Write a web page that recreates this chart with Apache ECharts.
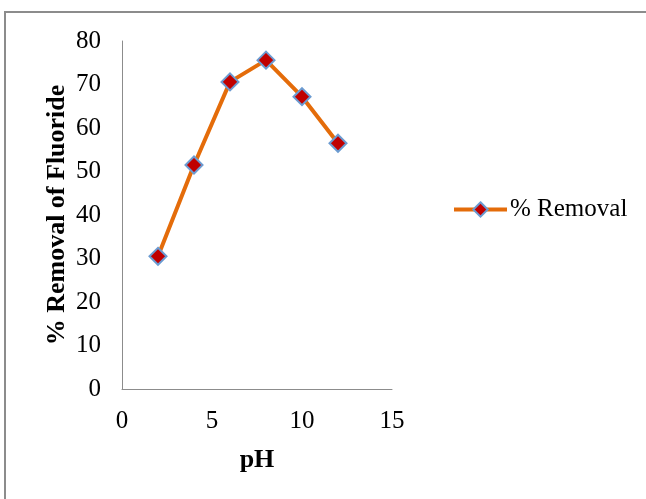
<!DOCTYPE html>
<html><head><meta charset="utf-8">
<script src="https://cdn.jsdelivr.net/npm/echarts@6/dist/echarts.min.js"></script>
<style>html,body{margin:0;padding:0;background:#fff}#c{width:646px;height:499px}</style>
</head><body><div id="c"></div>
<script>
const pH = [2, 4, 6, 8, 10, 12];
const removal = [30.5, 51.5, 70.6, 75.6, 67.2, 56.5];
const seriesName = '% Removal';
const xTicks = [0, 5, 10, 15];
const yTicks = [0, 10, 20, 30, 40, 50, 60, 70, 80];

const chart = echarts.init(document.getElementById('c'));
const font = 'Liberation Serif';
chart.setOption({
  animation: false,
  textStyle: {fontFamily: font},
  graphic: [{type: 'rect', shape: {x: 5, y: 12, width: 700, height: 600}, style: {fill: 'none', stroke: '#8c8c8c', lineWidth: 2}}],
  grid: {left: 122, right: 254, top: 41, bottom: 110},
  legend: {
    left: 452, top: 197, padding: 0, itemWidth: 53, itemHeight: 18, itemGap: 4,
    textStyle: {fontFamily: font, fontSize: 25, color: '#000', padding: [0, 0, 0, -2]},
    lineStyle: {width: 4},
    data: [seriesName]
  },
  xAxis: {
    type: 'value', min: xTicks[0], max: xTicks[xTicks.length - 1], interval: 5,
    name: 'pH', nameLocation: 'middle', nameGap: 58,
    nameTextStyle: {fontFamily: font, fontSize: 26, fontWeight: 'bold', color: '#000'},
    axisLine: {show: true, lineStyle: {color: '#8c8c8c', width: 1}},
    axisTick: {show: false}, splitLine: {show: false},
    axisLabel: {fontFamily: font, fontSize: 25, color: '#000', margin: 20}
  },
  yAxis: {
    type: 'value', min: yTicks[0], max: yTicks[yTicks.length - 1], interval: 10,
    name: '% Removal of Fluoride', nameLocation: 'middle', nameGap: 52,
    nameTextStyle: {fontFamily: font, fontSize: 26, fontWeight: 'bold', color: '#000'},
    axisLine: {show: true, lineStyle: {color: '#8c8c8c', width: 1}},
    axisTick: {show: false}, splitLine: {show: false},
    axisLabel: {fontFamily: font, fontSize: 25, color: '#000', margin: 21}
  },
  series: [{
    name: seriesName, type: 'line',
    data: pH.map((x, i) => [x, removal[i]]),
    symbol: 'diamond', symbolSize: 17,
    lineStyle: {color: '#E46C0A', width: 4},
    itemStyle: {color: '#C00000', borderColor: '#6B9BD1', borderWidth: 2}
  }]
});
</script></body></html>
